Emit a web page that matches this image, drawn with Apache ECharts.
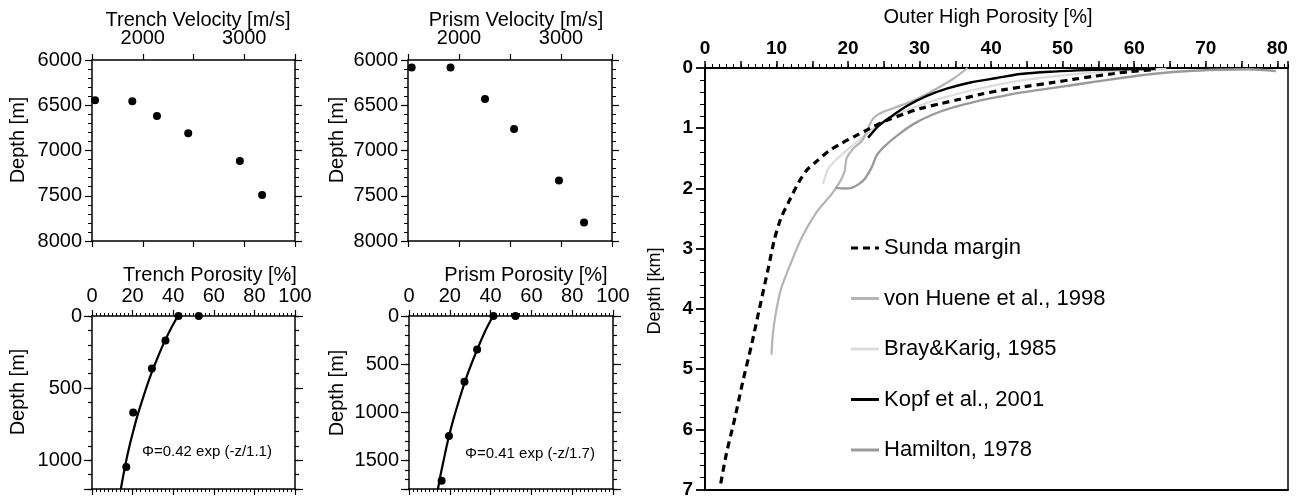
<!DOCTYPE html>
<html><head><meta charset="utf-8">
<script src="https://cdn.jsdelivr.net/npm/echarts@6/dist/echarts.min.js"></script>
<style>html,body{margin:0;padding:0;background:#fff}#c{width:1303px;height:499px}</style>
</head><body><div id="c"></div>
<script>
// ---------- data ----------
const trenchVelocity = [1530, 1897, 2140, 2448, 2957, 3176];
const trenchVelDepth = [6445, 6456, 6619, 6810, 7116, 7492];
const prismVelocity = [1536, 1917, 2255, 2540, 2980, 3226];
const prismVelDepth = [6083, 6083, 6430, 6762, 7332, 7795];

const trenchPorosity = [42.6, 52.6, 36.2, 29.5, 20.3, 16.9];
const trenchPorDepth = [0, 0, 170, 365, 669, 1048];
const trenchFitDepth = [0, 100, 200, 300, 400, 500, 600, 700, 800, 900, 1000, 1100, 1200];
const trenchFitPorosity = [42.3, 38.4, 35.0, 32.0, 29.2, 26.7, 24.4, 22.2, 20.3, 18.5, 16.9, 15.5, 14.2];

const prismPorosity = [41.4, 52.2, 33.4, 27.2, 19.6, 16.0];
const prismPorDepth = [0, 0, 348, 685, 1249, 1715];
const prismFitDepth = [0, 150, 300, 450, 600, 750, 900, 1050, 1200, 1350, 1500, 1650, 1800];
const prismFitPorosity = [41.2, 37.5, 34.4, 31.5, 28.8, 26.4, 24.2, 22.1, 20.2, 18.5, 17.0, 15.5, 14.2];

// Outer high porosity curves: [porosity %, depth km]
const sundaMargin = [[2.2,6.9],[3.0,6.4],[4.2,5.8],[5.3,5.2],[6.5,4.6],[7.6,4.0],[8.8,3.35],[9.7,2.85],[10.6,2.5],[11.8,2.2],[13.1,1.9],[14.2,1.7],[15.6,1.55],[17.3,1.38],[19.1,1.25],[21.0,1.13],[23.1,1.0],[25.2,0.88],[27.9,0.76],[30.2,0.67],[33.0,0.59],[35.6,0.52],[38.4,0.44],[41.8,0.36],[44.6,0.31],[48.7,0.24],[51.4,0.19],[54.2,0.14],[57.0,0.095],[59.3,0.06],[62.5,0.03]];
const vonHuene = [[36.7,0],[34.8,0.17],[32.1,0.36],[29.3,0.53],[26.5,0.66],[24.5,0.75],[23.5,0.84],[22.8,1.0],[22.0,1.2],[20.8,1.33],[19.8,1.5],[19.5,1.72],[18.8,1.9],[17.8,2.08],[16.8,2.22],[15.5,2.41],[13.6,2.8],[11.8,3.3],[10.6,3.68],[9.9,4.07],[9.5,4.4],[9.3,4.76]];
const brayKarig = [[16.5,1.93],[17.3,1.66],[19.1,1.44],[21.0,1.25],[22.4,1.11],[24.0,0.96],[26.0,0.82],[28.4,0.69],[31.0,0.58],[34.0,0.47],[37.4,0.37],[40.8,0.28],[44.1,0.21],[48.7,0.14],[53.3,0.085],[57.9,0.045],[62.5,0.022],[64.5,0.015]];
const kopf = [[22.8,1.16],[24.2,0.97],[26.1,0.80],[28.4,0.62],[31.1,0.46],[33.9,0.34],[37.1,0.24],[40.8,0.166],[44.1,0.10],[48.7,0.06],[53.3,0.035],[57.9,0.022],[63.0,0.017]];
const hamilton = [[18.2,1.99],[19.5,2.0],[20.5,1.99],[21.6,1.92],[22.4,1.83],[23.3,1.65],[24.0,1.45],[25.1,1.30],[27.0,1.11],[29.3,0.92],[32.1,0.76],[34.8,0.65],[38.1,0.55],[41.0,0.48],[44.1,0.41],[48.7,0.33],[53.3,0.25],[57.9,0.17],[62.5,0.10],[67.1,0.055],[71.7,0.03],[76.0,0.02],[79.8,0.05]];

const legendNames = ['Sunda margin', 'von Huene et al., 1998', 'Bray&Karig, 1985', 'Kopf et al., 2001', 'Hamilton, 1978'];

// ---------- helpers ----------
const FONT = '"Liberation Sans", Arial, Helvetica, sans-serif';
const zip = (a, b) => a.map((v, i) => [v, b[i]]);

const xAxes = [], yAxes = [];
function axis(o) {
  return {
    type: 'value', gridIndex: o.grid, position: o.pos, min: o.min, max: o.max, interval: o.interval,
    inverse: !!o.inverse, offset: 0,
    axisLine: { show: o.line !== false, onZero: false, lineStyle: { color: '#000', width: o.lw || 1.5 } },
    axisTick: { show: o.tick !== false, inside: false, length: o.tickLen || 6, lineStyle: { color: '#000', width: o.tw || 1.2 } },
    minorTick: { show: !!o.minor, splitNumber: o.minor || 5, length: o.minorLen || 3, lineStyle: { color: '#000', width: 1 } },
    axisLabel: o.labels ? { show: true, margin: o.margin, fontSize: o.fs, fontFamily: FONT, color: '#000', fontWeight: o.fw || 'normal', formatter: o.labels } : { show: false },
    splitLine: { show: false }, minorSplitLine: { show: false }
  };
}
const addX = o => { xAxes.push(axis(o)); return xAxes.length - 1; };
const addY = o => { yAxes.push(axis(o)); return yAxes.length - 1; };

const grids = [
  { left: 92, top: 60, width: 203, height: 181 },
  { left: 408, top: 60, width: 204, height: 181 },
  { left: 92, top: 316, width: 203, height: 173 },
  { left: 409, top: 316, width: 204, height: 173 },
  { left: 705, top: 68, width: 583, height: 424 }
];

const velLabel = v => (v % 1000 === 0 && v > 1500 && v < 3500) ? String(v) : '';
const idx = [];
for (let g = 0; g < 2; g++) {
  const xi = addX({ grid: g, pos: 'top', min: 1500, max: 3500, interval: 500, labels: velLabel, fs: 20, margin: 12, tickLen: 6 });
  addX({ grid: g, pos: 'bottom', min: 1500, max: 3500, interval: 500, tickLen: 6 });
  const yi = addY({ grid: g, pos: 'left', min: 6000, max: 8000, interval: 500, inverse: true, minor: 5, labels: v => String(v), fs: 20, margin: 10, tickLen: 7, minorLen: 4 });
  addY({ grid: g, pos: 'right', min: 6000, max: 8000, interval: 500, inverse: true, minor: 5, tickLen: 7, minorLen: 4 });
  idx.push([xi, yi]);
}
const porMax = [1200, 1800];
for (let k = 0; k < 2; k++) {
  const g = 2 + k;
  const xi = addX({ grid: g, pos: 'top', min: 0, max: 100, interval: 20, minor: 10, labels: v => String(v), fs: 20, margin: 10, tickLen: 6, minorLen: 3 });
  addX({ grid: g, pos: 'bottom', min: 0, max: 100, interval: 20, minor: 10, tickLen: 6, minorLen: 3 });
  const yi = addY({ grid: g, pos: 'left', min: 0, max: porMax[k], interval: 100, inverse: true, labels: v => (v % 500 === 0 ? String(v) : ''), fs: 20, margin: 10, tickLen: 4 });
  addY({ grid: g, pos: 'left', min: 0, max: porMax[k], interval: 500, inverse: true, line: false, tickLen: 8 });
  addY({ grid: g, pos: 'right', min: 0, max: porMax[k], interval: 100, inverse: true, tickLen: 4 });
  addY({ grid: g, pos: 'right', min: 0, max: porMax[k], interval: 500, inverse: true, line: false, tickLen: 8 });
  idx.push([xi, yi]);
}
// outer high porosity panel (fine ticks every 1 %, long ticks every 5 %, labels every 10 %)
const OUTER_MAX = 81.5;
const rx = addX({ grid: 4, pos: 'top', min: 0, max: OUTER_MAX, interval: 5, labels: v => (v % 10 === 0 ? String(v) : ''), fs: 19, fw: 'bold', margin: 10, tickLen: 7, lw: 2, tw: 1.5 });
addX({ grid: 4, pos: 'top', min: 0, max: OUTER_MAX, interval: 1, line: false, tickLen: 4, tw: 1 });
addX({ grid: 4, pos: 'bottom', min: 0, max: OUTER_MAX, interval: 5, tick: false, lw: 2 });
const ry = addY({ grid: 4, pos: 'left', min: 0, max: 7, interval: 1, inverse: true, minor: 5, labels: v => String(v), fs: 19, fw: 'bold', margin: 12, tickLen: 9, minorLen: 5, lw: 2, tw: 1.8 });
addY({ grid: 4, pos: 'right', min: 0, max: 7, interval: 1, inverse: true, tick: false, lw: 1.5 });

const dot = (data, p) => ({ type: 'scatter', data, xAxisIndex: idx[p][0], yAxisIndex: idx[p][1], symbol: 'circle', symbolSize: 8, itemStyle: { color: '#000', opacity: 1 }, z: 3, silent: true });
const fit = (data, p) => ({ type: 'line', data, xAxisIndex: idx[p][0], yAxisIndex: idx[p][1], showSymbol: false, symbol: 'none', smooth: 0.3, lineStyle: { color: '#000', width: 2.2 }, z: 2, silent: true });
const curve = (name, data, color, width, type, z) => ({ name, type: 'line', data, xAxisIndex: rx, yAxisIndex: ry, showSymbol: false, symbol: 'none', smooth: 0.3, lineStyle: { color, width, type, cap: 'butt' }, itemStyle: { color }, z, silent: true });

const series = [
  dot(zip(trenchVelocity, trenchVelDepth), 0),
  dot(zip(prismVelocity, prismVelDepth), 1),
  fit(zip(trenchFitPorosity, trenchFitDepth), 2),
  dot(zip(trenchPorosity, trenchPorDepth), 2),
  fit(zip(prismFitPorosity, prismFitDepth), 3),
  dot(zip(prismPorosity, prismPorDepth), 3),
  curve(legendNames[2], brayKarig, '#dcdcdc', 2.2, 'solid', 2),
  curve(legendNames[1], vonHuene, '#b4b4b4', 2.2, 'solid', 3),
  curve(legendNames[4], hamilton, '#9a9a9a', 2.4, 'solid', 3),
  curve(legendNames[3], kopf, '#000', 2.4, 'solid', 4),
  curve(legendNames[0], sundaMargin, '#000', 3.2, [7, 5], 5)
];

const txt = (text, x, y, size, opts = {}) => ({
  type: 'text', x, y, rotation: opts.rot || 0, silent: true,
  style: { text, fontSize: size, fontFamily: FONT, fill: '#000', align: opts.align || 'center', verticalAlign: 'middle' }
});

const dashIcon = 'path://M0,0h7v3h-7z M12,0h7v3h-7z M24,0h4v3h-4z';
const option = {
  animation: false,
  backgroundColor: '#fff',
  grid: grids,
  xAxis: xAxes,
  yAxis: yAxes,
  series,
  legend: {
    data: legendNames.map((n, i) => ({ name: n, icon: i === 0 ? dashIcon : 'rect' })),
    orient: 'vertical', left: 846, top: 230,
    itemWidth: 28, itemHeight: 3, itemGap: 24.5, selectedMode: false,
    textStyle: { fontSize: 22, lineHeight: 26, fontFamily: FONT, color: '#000' }
  },
  graphic: [
    txt('Trench Velocity [m/s]', 198, 20, 20),
    txt('Prism Velocity [m/s]', 516, 20, 20),
    txt('Trench Porosity [%]', 210, 275, 20),
    txt('Prism Porosity [%]', 526, 275, 20),
    txt('Depth [m]', 18, 140, 20, { rot: Math.PI / 2 }),
    txt('Depth [m]', 337, 140, 20, { rot: Math.PI / 2 }),
    txt('Depth [m]', 18, 392, 20, { rot: Math.PI / 2 }),
    txt('Depth [m]', 337, 393, 20, { rot: Math.PI / 2 }),
    txt('Φ=0.42 exp (-z/1.1)', 142, 452, 15, { align: 'left' }),
    txt('Φ=0.41 exp (-z/1.7)', 465, 454, 15, { align: 'left' }),
    txt('Outer High Porosity [%]', 988, 17, 20),
    txt('Depth [km]', 655, 291, 18, { rot: Math.PI / 2 })
  ]
};

const chart = echarts.init(document.getElementById('c'), null, { renderer: 'canvas' });
chart.setOption(option);
</script>
</body></html>
